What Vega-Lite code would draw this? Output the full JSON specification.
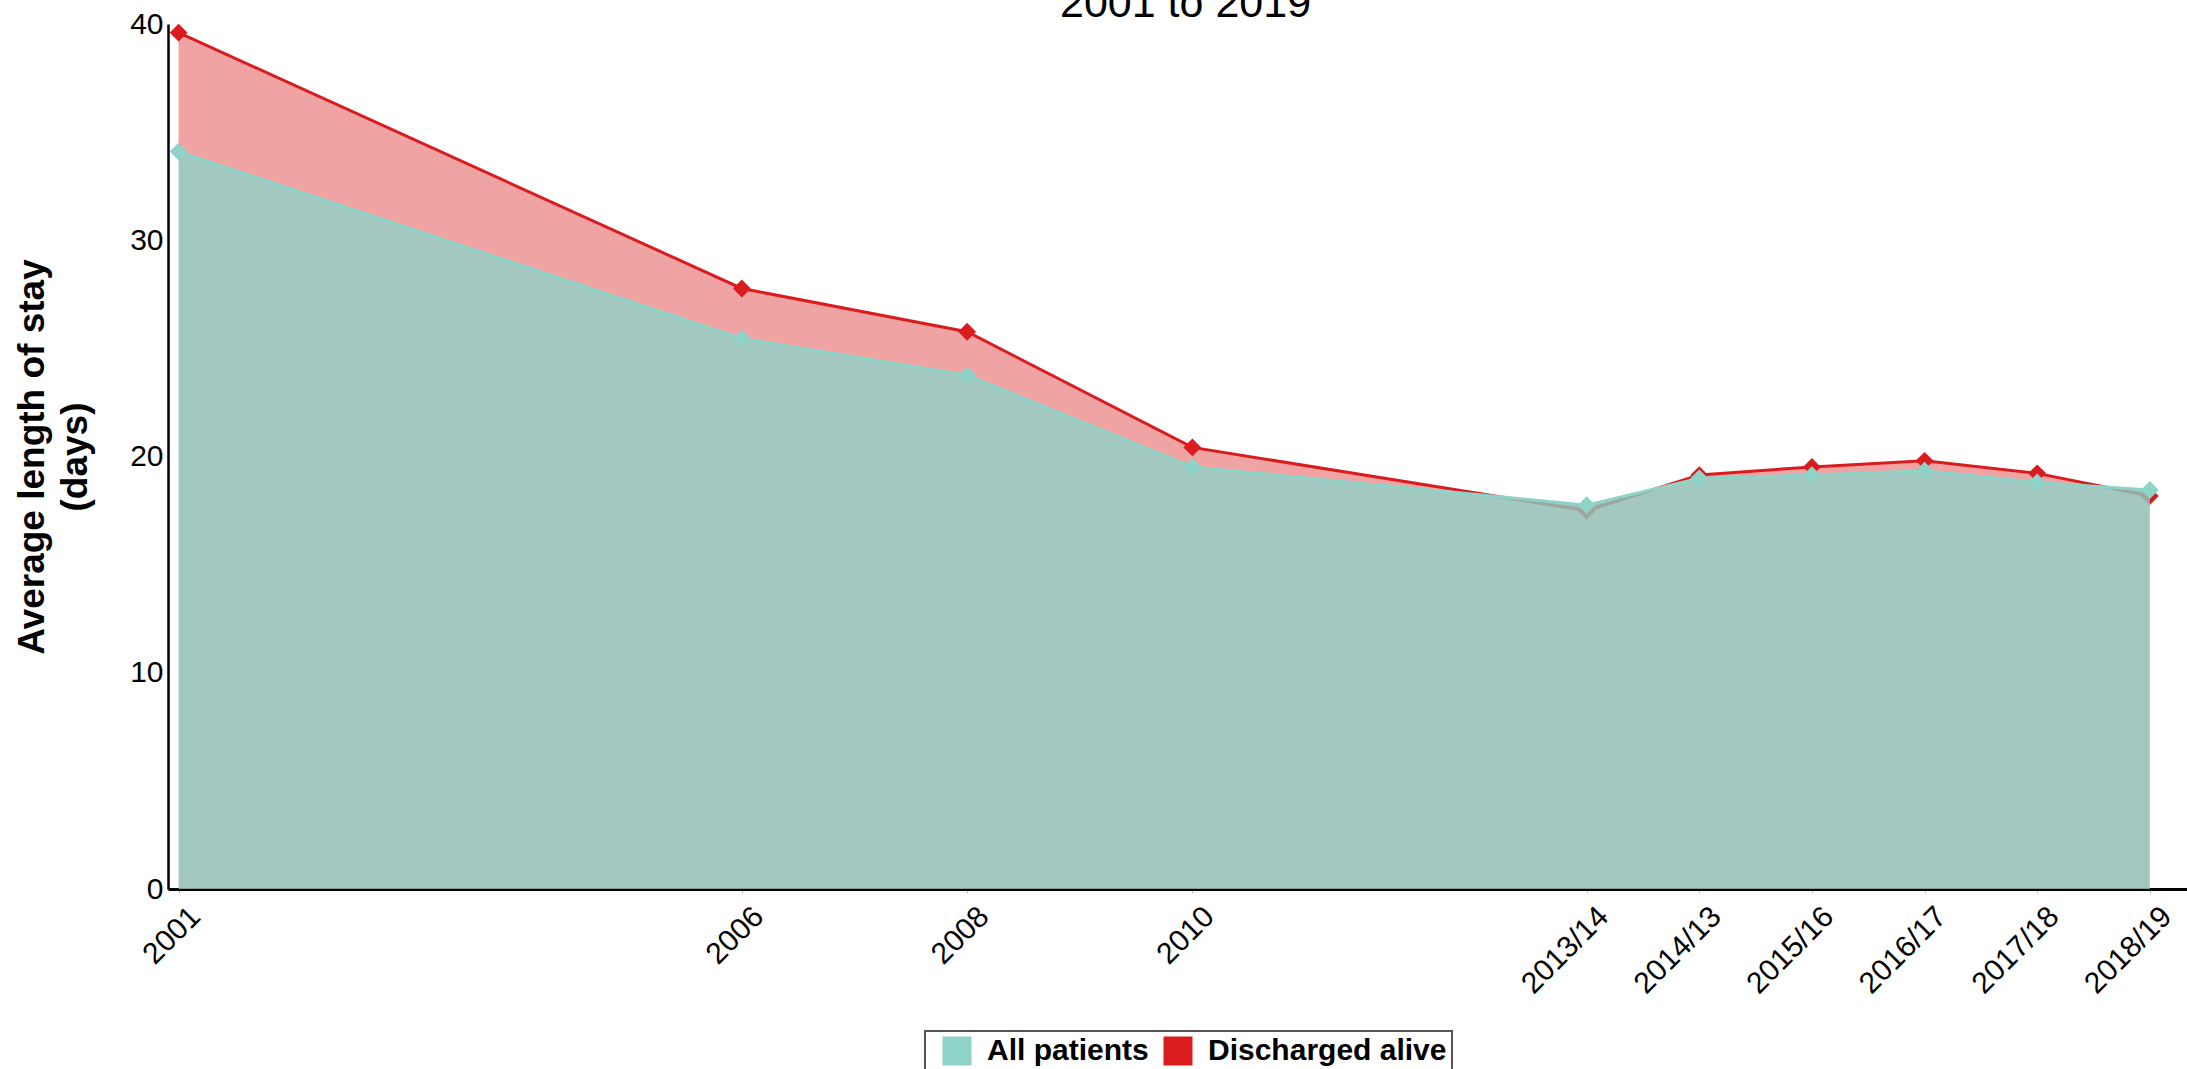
{
  "$schema": "https://vega.github.io/schema/vega-lite/v6.json",
  "autosize": {"type": "none"},
  "width": 2019,
  "height": 865,
  "padding": {"left": 168, "top": 24, "right": 0, "bottom": 180},
  "background": "white",
  "config": {
    "view": {"stroke": null},
    "font": "Liberation Sans",
    "legend": {"strokeWidth": 2}
  },
  "title": {
    "text": "2001 to 2019",
    "fontSize": 43,
    "fontWeight": "normal",
    "font": "Liberation Sans",
    "color": "black",
    "anchor": "middle",
    "dx": 8,
    "dy": 24,
    "offset": 7
  },
  "data": {
    "values": [
      {"year": 2001, "all": 34.1, "alive": 39.6},
      {"year": 2006, "all": 25.46, "alive": 27.77},
      {"year": 2008, "all": 23.76, "alive": 25.77},
      {"year": 2010, "all": 19.52, "alive": 20.42},
      {"year": 2013.5, "all": 17.75, "alive": 17.49},
      {"year": 2014.5, "all": 18.99, "alive": 19.14},
      {"year": 2015.5, "all": 19.14, "alive": 19.52},
      {"year": 2016.5, "all": 19.34, "alive": 19.8},
      {"year": 2017.5, "all": 18.8, "alive": 19.22},
      {"year": 2018.5, "all": 18.45, "alive": 18.17}
    ]
  },
  "encoding": {
    "x": {
      "field": "year",
      "type": "quantitative",
      "scale": {"domain": [2000.906, 2018.83], "nice": false, "zero": false},
      "axis": {
        "values": [2001, 2006, 2008, 2010, 2013.5, 2014.5, 2015.5, 2016.5, 2017.5, 2018.5],
        "labelExpr": "datum.value == 2013.5 ? '2013/14' : datum.value == 2014.5 ? '2014/13' : datum.value == 2015.5 ? '2015/16' : datum.value == 2016.5 ? '2016/17' : datum.value == 2017.5 ? '2017/18' : datum.value == 2018.5 ? '2018/19' : format(datum.value, 'd')",
        "labelAngle": -45,
        "labelAlign": "right",
        "labelBaseline": "top",
        "labelFontSize": 30,
        "labelColor": "black",
        "labelFont": "Liberation Sans",
        "labelPadding": 8,
        "labelOffset": 6,
        "labelOverlap": false,
        "labelFlush": false,
        "tickSize": 4,
        "tickColor": "#bbbbbb",
        "domainColor": "black",
        "domainWidth": 3,
        "grid": false,
        "title": null
      }
    }
  },
  "layer": [
    {
      "mark": {"type": "area", "color": "#EFA3A3", "opacity": 1},
      "encoding": {
        "y": {
          "field": "all",
          "type": "quantitative",
          "scale": {"domain": [0, 40], "nice": false, "zero": true},
          "axis": {
            "values": [0, 10, 20, 30, 40],
            "labelFontSize": 30,
            "labelColor": "black",
            "labelFont": "Liberation Sans",
            "labelFlush": false,
            "ticks": false,
            "labelPadding": 5,
            "domainColor": "black",
            "domainWidth": 2.5,
            "grid": false,
            "title": ["Average length of stay", "(days)"],
            "titleFont": "Liberation Sans",
            "titleFontSize": 37,
            "titleFontWeight": "bold",
            "titleColor": "black",
            "titleAngle": -90,
            "titleX": -124.5,
            "titleY": 432.5,
            "titleAlign": "center",
            "titleBaseline": "alphabetic",
            "titleLineHeight": 43
          }
        },
        "y2": {"field": "alive"}
      }
    },
    {
      "mark": {"type": "line", "color": "#DA1C1F", "strokeWidth": 3},
      "encoding": {
        "y": {"field": "alive", "type": "quantitative"}
      }
    },
    {
      "mark": {"type": "point", "shape": "diamond", "filled": true, "size": 320, "opacity": 1},
      "encoding": {
        "y": {"field": "alive", "type": "quantitative"},
        "color": {"datum": "Discharged alive"}
      }
    },
    {
      "mark": {"type": "area", "color": "#92BEB5", "opacity": 0.85},
      "encoding": {
        "y": {"field": "all", "type": "quantitative"}
      }
    },
    {
      "mark": {"type": "line", "color": "#8DD3C7", "strokeWidth": 3},
      "encoding": {
        "y": {"field": "all", "type": "quantitative"}
      }
    },
    {
      "mark": {"type": "point", "shape": "diamond", "filled": true, "size": 320, "opacity": 1},
      "encoding": {
        "y": {"field": "all", "type": "quantitative"},
        "color": {
          "datum": "All patients",
          "scale": {"domain": ["All patients", "Discharged alive"], "range": ["#8DD3C7", "#DA1C1F"]},
          "legend": {
            "orient": "none",
            "legendX": 757,
            "legendY": 1007,
            "direction": "horizontal",
            "title": null,
            "strokeColor": "#555555",
            "padding": 5,
            "labelFontSize": 30,
            "labelFontWeight": "bold",
            "labelColor": "black",
            "labelFont": "Liberation Sans",
            "labelLimit": 500,
            "symbolType": "square",
            "symbolSize": 841,
            "symbolStrokeWidth": 0,
            "symbolOpacity": 0.9,
            "labelOffset": 15,
            "columnPadding": 2,
            "symbolOffset": 12
          }
        }
      }
    }
  ]
}
